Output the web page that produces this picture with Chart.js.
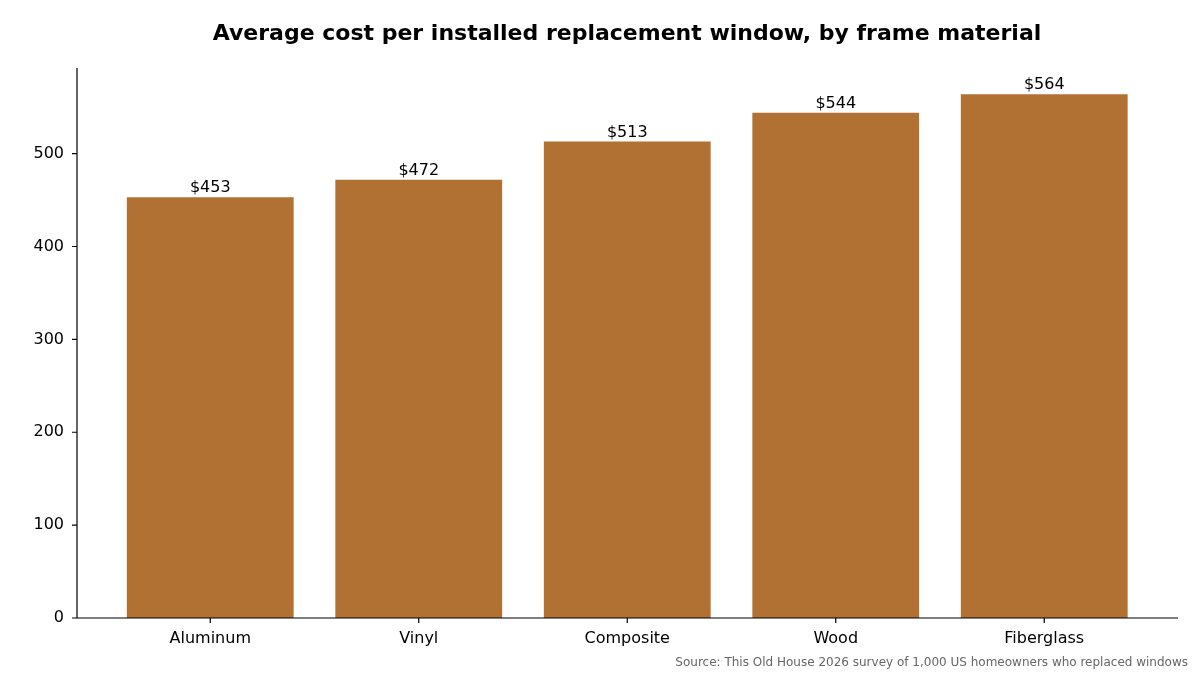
<!DOCTYPE html>
<html>
<head>
<meta charset="utf-8">
<script src="https://cdn.jsdelivr.net/npm/chart.js@4.4.1/dist/chart.umd.min.js"></script>
<style>
  html, body { margin: 0; padding: 0; background: #fff; }
  #wrap { width: 1200px; height: 675px; }
</style>
</head>
<body>
<div id="wrap"><canvas id="c" width="1200" height="675"></canvas></div>
<script>
const materials = ['Aluminum', 'Vinyl', 'Composite', 'Wood', 'Fiberglass'];
const avgCost = [453, 472, 513, 544, 564];
const yTicks = [0, 100, 200, 300, 400, 500];

const FONT = '"DejaVu Sans", sans-serif';
const BAR_COLOR = '#B07133';
const AXIS_LEFT = 77, AXIS_RIGHT = 1178;

// Achsen (matplotlib-artig breiter als Plotbereich), Titel, Quelle, Wertbeschriftungen
const annotate = {
    id: 'annotate',
    afterDatasetsDraw(chart) {
        const ctx = chart.ctx;
        const area = chart.chartArea;
        const y = chart.scales.y;
        ctx.save();
        ctx.strokeStyle = '#000';
        ctx.lineWidth = 1.2;
        ctx.beginPath();
        ctx.moveTo(AXIS_LEFT, area.top);
        ctx.lineTo(AXIS_LEFT, area.bottom);
        ctx.lineTo(AXIS_RIGHT, area.bottom);
        yTicks.forEach(v => {
            const py = y.getPixelForValue(v);
            ctx.moveTo(AXIS_LEFT - 5, py);
            ctx.lineTo(AXIS_LEFT, py);
        });
        chart.getDatasetMeta(0).data.forEach(bar => {
            ctx.moveTo(bar.x, area.bottom);
            ctx.lineTo(bar.x, area.bottom + 5);
        });
        ctx.stroke();

        ctx.fillStyle = '#000';
        ctx.font = '16px ' + FONT;
        ctx.textAlign = 'center';
        ctx.textBaseline = 'bottom';
        chart.getDatasetMeta(0).data.forEach((bar, i) => {
            ctx.fillText('$' + avgCost[i], bar.x, bar.y - 1);
        });
        ctx.font = 'bold 22px ' + FONT;
        ctx.textBaseline = 'middle';
        ctx.fillText('Average cost per installed replacement window, by frame material', 627, 34);
        ctx.font = '12px ' + FONT;
        ctx.fillStyle = '#666';
        ctx.textAlign = 'right';
        ctx.fillText('Source: This Old House 2026 survey of 1,000 US homeowners who replaced windows', 1188, 663);
        ctx.restore();
    }
};

new Chart(document.getElementById('c'), {
    type: 'bar',
    data: {
        labels: materials,
        datasets: [{
            data: avgCost,
            backgroundColor: BAR_COLOR,
            barPercentage: 0.8,
            categoryPercentage: 1
        }]
    },
    options: {
        responsive: false,
        animation: false,
        layout: { padding: { top: 68, right: 51.5, left: 0, bottom: 0 } },
        plugins: { legend: { display: false }, tooltip: { enabled: false } },
        scales: {
            x: {
                ticks: {
                    color: '#000',
                    font: { family: FONT, size: 16 },
                    maxRotation: 0,
                    autoSkip: false,
                    padding: 11
                },
                grid: { display: false, drawTicks: false },
                border: { display: false },
                afterFit: s => { s.height = 57; }
            },
            y: {
                min: 0,
                max: 592.2,
                afterBuildTicks: s => { s.ticks = yTicks.map(v => ({ value: v })); },
                ticks: { color: '#000', font: { family: FONT, size: 16 }, padding: 42 },
                grid: { display: false, drawTicks: false },
                border: { display: false },
                afterFit: s => { s.width = 106; }
            }
        }
    },
    plugins: [annotate]
});
</script>
</body>
</html>
